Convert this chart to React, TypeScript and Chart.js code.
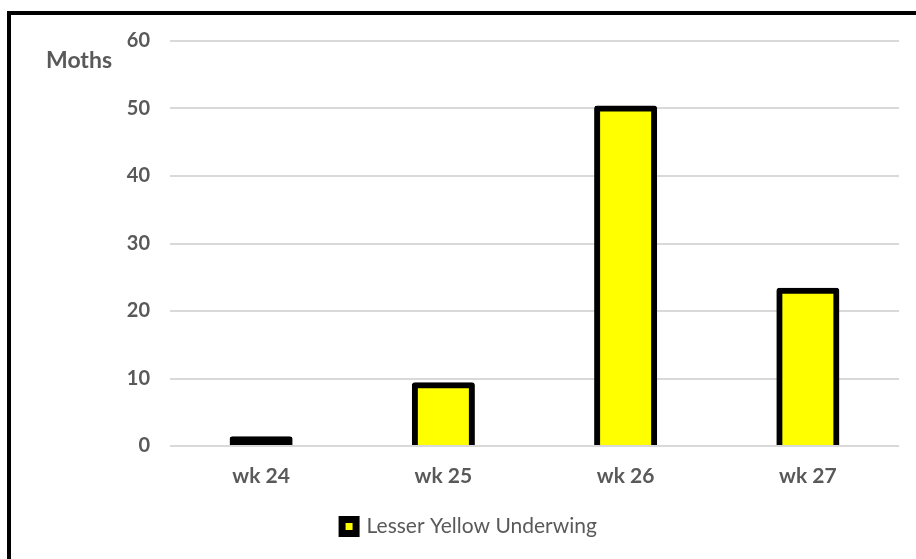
import { useEffect, useRef } from "react";
import { Chart, registerables } from "chart.js";

Chart.register(...registerables);

const categories = ["wk 24", "wk 25", "wk 26", "wk 27"];
const seriesName = "Lesser Yellow Underwing";
const mothCounts = [1, 9, 50, 23];
const yMin = 0;
const yMax = 60;
const yStep = 10;
const axisTitle = "Moths";

const GREY = "#595959";
const GRID = "#d9d9d9";
const FONT = "Lato, 'Open Sans', sans-serif";

export default function App() {
  const ref = useRef<HTMLCanvasElement | null>(null);

  useEffect(() => {
    if (!ref.current) return;
    const titlePlugin = {
      id: "mothsTitle",
      afterDraw(chart: any) {
        const { ctx, chartArea } = chart;
        ctx.save();
        ctx.font = `bold 23px ${FONT}`;
        ctx.fillStyle = GREY;
        ctx.textAlign = "left";
        ctx.textBaseline = "middle";
        ctx.fillText(axisTitle, chartArea.left - 124, chartArea.top + 20);
        ctx.restore();
      },
    };
    const legendShift = {
      id: "legendShift",
      afterLayout(chart: any) {
        if (chart.legend) {
          chart.legend.left += 20;
          chart.legend.right += 20;
        }
      },
    };
    const chart = new Chart(ref.current, {
      type: "bar",
      data: {
        labels: categories,
        datasets: [
          {
            label: seriesName,
            data: mothCounts,
            backgroundColor: (c: any) => {
              if (c.type !== "data" || !c.chart.scales?.y) return "#ffff00";
              const y = c.chart.scales.y;
              const h = y.getPixelForValue(0) - y.getPixelForValue(c.raw);
              return h < 10 ? "#000000" : "#ffff00";
            },
            borderColor: "#000000",
            borderWidth: 6,
            borderSkipped: "start",
            borderRadius: 3,
            inflateAmount: 3,
            barPercentage: 0.313,
            categoryPercentage: 1,
          } as any,
        ],
      },
      options: {
        responsive: false,
        animation: false,
        layout: { padding: { left: 0, right: 17, top: 41, bottom: 12 } },
        plugins: {
          tooltip: { enabled: false },
          legend: {
            position: "bottom",
            labels: {
              color: GREY,
              font: { family: FONT, size: 21, weight: "normal" },
              boxWidth: 14,
              boxHeight: 14,
              padding: 10,
              generateLabels: (ch: any) =>
                (Chart.defaults.plugins.legend.labels as any)
                  .generateLabels(ch)
                  .map((l: any) => ({ ...l, lineWidth: 7, fillStyle: "#ffff00" })),
            },
          },
        },
        scales: {
          x: {
            grid: { display: false, drawTicks: false },
            border: { display: false },
            ticks: {
              color: GREY,
              font: { family: FONT, size: 21, weight: "bold" },
              padding: 18,
            },
            afterFit: (s: any) => {
              s.height = 60;
            },
          },
          y: {
            min: yMin,
            max: yMax,
            ticks: {
              stepSize: yStep,
              color: GREY,
              font: { family: FONT, size: 20, weight: "bold" },
              padding: 20,
            },
            grid: { color: GRID, lineWidth: 2, drawTicks: false },
            border: { display: false },
            afterFit: (s: any) => {
              s.width = 170;
            },
          },
        },
      },
      plugins: [titlePlugin, legendShift],
    });
    return () => chart.destroy();
  }, []);

  return (
    <>
      <div
        style={{
          position: "fixed",
          left: 7,
          top: 11,
          width: 2000,
          height: 2000,
          border: "4px solid #000",
          background: "#fff",
        }}
      />
      <canvas
        ref={ref}
        width={916}
        height={559}
        style={{ position: "fixed", left: 0, top: 0, width: 916, height: 559 }}
      />
    </>
  );
}
